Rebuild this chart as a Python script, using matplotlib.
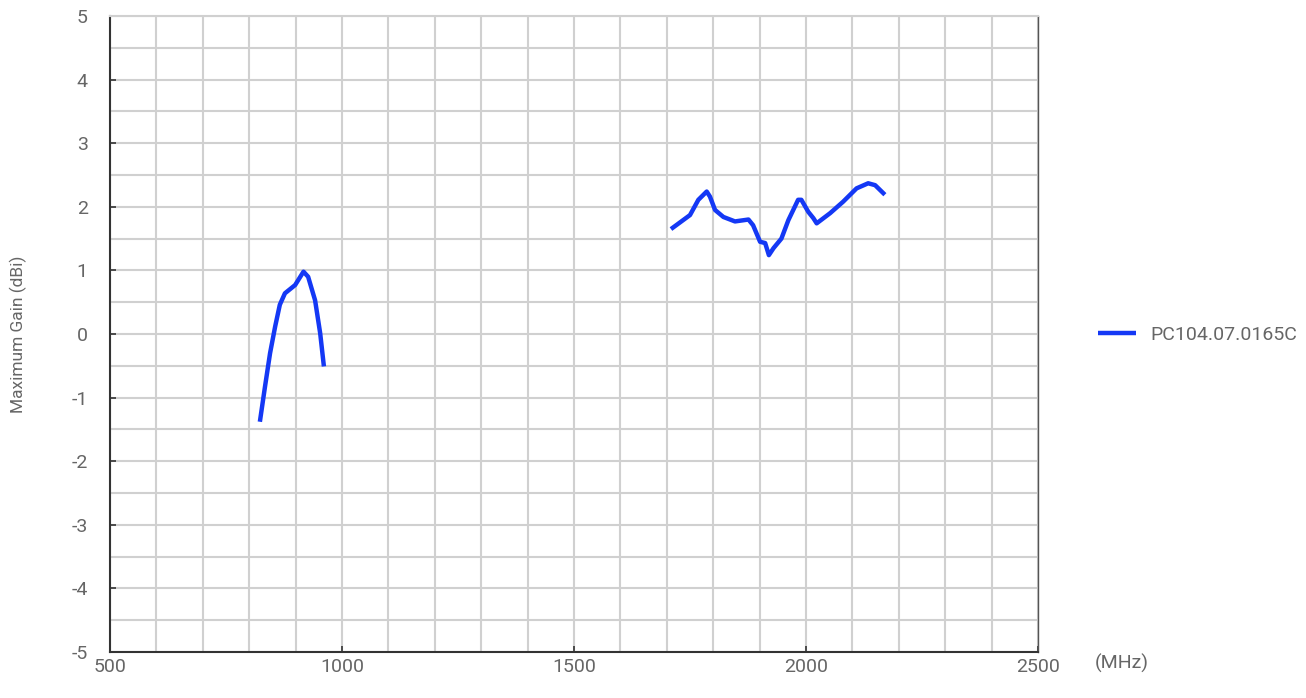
import matplotlib
matplotlib.use("Agg")
import matplotlib.pyplot as plt
from matplotlib.ticker import MultipleLocator

plt.rcParams['font.family'] = ['Roboto', 'DejaVu Sans']
plt.rcParams['axes.unicode_minus'] = False

series_name = "PC104.07.0165C"
low_freq = [823, 834, 845, 856, 866, 877, 899, 917, 927, 942, 953, 961]
low_gain = [-1.38, -0.83, -0.30, 0.12, 0.46, 0.64, 0.77, 0.98, 0.90, 0.53, 0.01, -0.51]
high_freq = [1709, 1750, 1768, 1786, 1793, 1804, 1822, 1847, 1876, 1886, 1901, 1912, 1920,
             1930, 1947, 1962, 1983, 1990, 2005, 2016, 2023, 2052, 2080, 2109, 2134, 2149, 2170]
high_gain = [1.65, 1.87, 2.11, 2.24, 2.16, 1.95, 1.84, 1.77, 1.80, 1.71, 1.45, 1.43, 1.24,
             1.35, 1.50, 1.79, 2.11, 2.11, 1.92, 1.82, 1.74, 1.90, 2.08, 2.29, 2.37, 2.34, 2.19]
x_ticks = [500, 1000, 1500, 2000, 2500]
y_ticks = [-5, -4, -3, -2, -1, 0, 1, 2, 3, 4, 5]

text_color = '#666666'
grid_color = '#d0d0d0'
line_color = '#1438f5'
fs = 14

fig = plt.figure(figsize=(13.06, 6.98), dpi=100)
ax = fig.add_axes([110/1306, 46/698, 928/1306, 636/698])

ax.plot(low_freq, low_gain, color=line_color, lw=3.2, solid_capstyle='butt',
        solid_joinstyle='round', label=series_name)
ax.plot(high_freq, high_gain, color=line_color, lw=3.2, solid_capstyle='butt',
        solid_joinstyle='round')

ax.set_xlim(500, 2500)
ax.set_ylim(-5, 5)
ax.set_xticks(x_ticks)
ax.set_yticks(y_ticks)
ax.xaxis.set_minor_locator(MultipleLocator(100))
ax.yaxis.set_minor_locator(MultipleLocator(0.5))
ax.grid(which='both', color=grid_color, lw=1.5)
ax.set_axisbelow(True)
ax.tick_params(which='major', direction='in', length=4, width=1.2, color='#333333',
               labelsize=fs, labelcolor=text_color)
ax.tick_params(which='minor', length=0)
ax.tick_params(axis='x', pad=4)
ax.tick_params(axis='y', pad=16)
for s in ['left', 'bottom']:
    ax.spines[s].set_color('#333333')
    ax.spines[s].set_linewidth(1.5)
ax.spines['top'].set_color(grid_color)
ax.spines['top'].set_linewidth(1.5)
ax.spines['right'].set_color('#555555')
ax.spines['right'].set_linewidth(1.0)

fig.text(18/1306, 1 - 334/698, 'Maximum Gain (dBi)', rotation=90, ha='center', va='center',
         fontsize=12.5, color=text_color)
fig.text(1122/1306, 1 - 663/698, '(MHz)', ha='center', va='center', fontsize=fs, color=text_color)

leg = fig.legend(loc='center left', bbox_to_anchor=(1080/1306, 1 - 335/698), frameon=False,
                 fontsize=fs, handlelength=2.0, handletextpad=0.7)
for t in leg.get_texts():
    t.set_color(text_color)

fig.savefig('out.png', dpi=100)
